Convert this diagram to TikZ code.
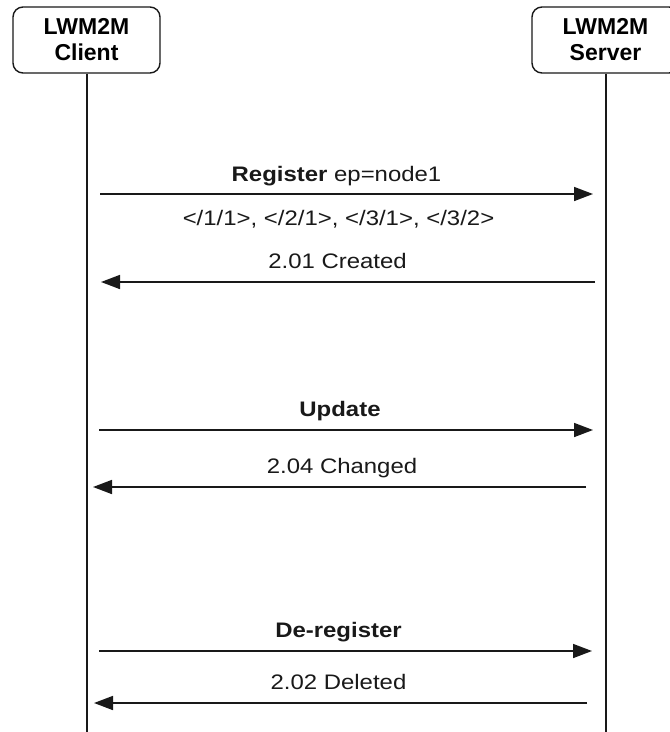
\documentclass[tikz,border=0pt]{standalone}
\usepackage{fontspec}
\setmainfont{Liberation Sans}
\newfontfamily\lblfont{Liberation Sans}[FakeStretch=1.14]
\usetikzlibrary{arrows.meta}
\begin{document}
\begin{tikzpicture}[x=1pt,y=-1pt,
  actor/.style={draw=black!90, line width=1.4pt, rounded corners=10pt,
    minimum width=147pt, minimum height=66pt, inner sep=0pt, align=center,
    font=\fontsize{23}{26}\selectfont\bfseries},
  life/.style={draw=black!90, line width=1.5pt},
  msg/.style={draw=black!90, line width=1.6pt, -{Triangle[length=19pt,width=14pt]}},
  lbl/.style={anchor=base, inner sep=0pt, text=black!90,
    font=\lblfont\fontsize{21}{24}\selectfont}]
\useasboundingbox (0,0) rectangle (670,732);
\clip (0,0) rectangle (670,732);
\fill[white] (0,0) rectangle (670,732);

% participants
\node[actor] (client) at (86.5,40) {LWM2M\\Client};
\node[actor] (server) at (605.5,40) {LWM2M\\Server};

% lifelines
\coordinate (cbot) at (87,740);
\coordinate (sbot) at (606,740);
\draw[life] (client.south -| cbot) -- (cbot);
\draw[life] (server.south -| sbot) -- (sbot);

% message end points
\coordinate (c1) at (100,194); \coordinate (s1) at (593,194);
\coordinate (s2) at (595,282); \coordinate (c2) at (101,282);
\coordinate (c3) at (99,430);  \coordinate (s3) at (593,430);
\coordinate (s4) at (586,487); \coordinate (c4) at (93,487);
\coordinate (c5) at (99,651);  \coordinate (s5) at (592,651);
\coordinate (s6) at (587,703); \coordinate (c6) at (94,703);

% messages
\draw[msg] (c1) -- (s1);
\draw[msg] (s2) -- (c2);
\draw[msg] (c3) -- (s3);
\draw[msg] (s4) -- (c4);
\draw[msg] (c5) -- (s5);
\draw[msg] (s6) -- (c6);

% labels
\node[lbl] (l1) at (336.5,181) {\bfseries Register\mdseries\ ep=node1};
\node[lbl] (l1b) at (338.5,225) {</1/1>, </2/1>, </3/1>, </3/2>};
\node[lbl] (l2) at (337.5,268) {2.01 Created};
\node[lbl] (l3) at (340,416) {\bfseries Update};
\node[lbl] (l4) at (342,473) {2.04 Changed};
\node[lbl] (l5) at (338.5,637) {\bfseries De-register};
\node[lbl] (l6) at (338.5,689) {2.02 Deleted};
\end{tikzpicture}
\end{document}
